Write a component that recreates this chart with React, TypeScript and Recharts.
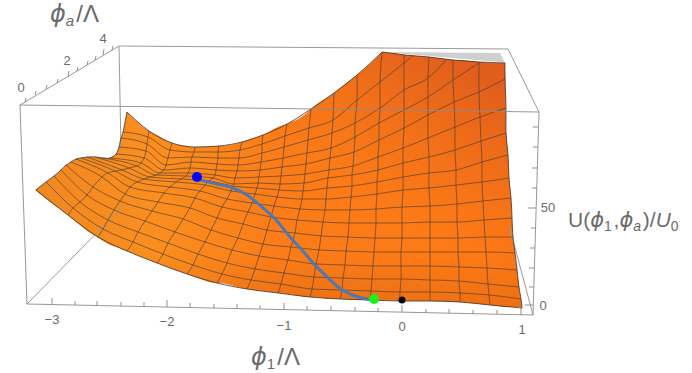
import React from "react";
import { ComposedChart, Area, Line, Scatter, XAxis, YAxis } from "recharts";

type P = [number, number];

// Projected surface mesh: constant-phi1 curves, front (phi_a = 0) to back.
const col0: P[] = [[36,190],[46,182],[54,176],[61,170],[66,165],[71,162],[76,159],[81,158],[87,157],[95,157],[103,158],[110,158],[116,154],[119,147],[121,138],[123,132],[127,112]];
const col1: P[] = [[68,215],[73,208],[80,202],[87,195],[93,187],[102,177],[108,173],[115,171],[122,170],[129,168],[137,166],[141,163],[144,158],[146,151],[147,144],[148,137],[149,131]];
const col2: P[] = [[98,237],[103,229],[108,220],[114,210],[120,201],[125,194],[130,187],[137,182],[144,179],[150,177],[156,175],[160,173],[164,170],[166,165],[168,158],[170,150],[172,143]];
const col3: P[] = [[127,251],[133,242],[138,232],[145,221],[152,211],[158,202],[164,193],[170,187],[176,182],[181,179],[186,176],[188,173],[190,168],[191,162],[192,157],[194,152],[195,147]];
const col4: P[] = [[157,263],[163,254],[168,243],[175,232],[183,219],[190,208],[195,198],[200,191],[205,185],[209,181],[213,178],[215,175],[216,170],[217,164],[218,158],[218,152],[219,146]];
const col5: P[] = [[187,274],[193,265],[198,254],[205,242],[211,230],[217,218],[222,207],[227,199],[231,191],[233,186],[234,184],[235,178],[237,171],[238,165],[239,158],[240,150],[242,142]];
const col6: P[] = [[217,283],[222,274],[227,263],[232,250],[238,238],[243,224],[248,212],[252,203],[255,194],[257,188],[258,183],[259,177],[260,170],[261,162],[262,153],[262,144],[263,135]];
const col7: P[] = [[247,289],[251,280],[255,269],[259,256],[263,244],[267,230],[271,217],[274,206],[277,197],[279,190],[280,184],[281,176],[282,167],[283,158],[284,147],[285,136],[287,124]];
const col8: P[] = [[278,293],[281,284],[284,273],[288,260],[291,247],[295,233],[297,220],[300,209],[302,199],[303,191],[304,183],[305,174],[306,164],[307,153],[308,140],[309,128],[311,109]];
const col9: P[] = [[310,297],[312,289],[314,277],[316,264],[319,250],[321,236],[323,222],[325,210],[326,199],[327,188],[328,178],[329,170],[330,158],[331,148],[332,133],[333,120],[334,93]];
const col10: P[] = [[340,299],[342,290],[343,278],[345,265],[346,251],[348,237],[349,223],[350,210],[351,197],[352,186],[352,175],[353,166],[354,152],[355,137],[355,123],[357,100],[357,75]];
const col11: P[] = [[370,300],[371,291],[372,279],[373,266],[374,252],[375,238],[376,223],[376,209],[377,194],[377,182],[378,170],[378,157],[379,140],[379,123],[380,108],[380,82],[382,52]];
const col12: P[] = [[400,301],[400,292],[401,279],[401,266],[401,252],[402,238],[402,223],[402,207],[403,190],[403,177],[403,163],[403,148],[404,128],[404,110],[404,90],[404,63],[405,55]];
const col13: P[] = [[430,301],[430,292],[430,280],[430,266],[430,252],[430,238],[430,222],[430,206],[429,188],[429,173],[429,157],[428,138],[428,115],[428,97],[428,78],[429,57]];
const col14: P[] = [[460,302],[460,293],[459,281],[459,267],[458,252],[458,238],[457,222],[457,204],[456,185],[456,170],[455,150],[455,127],[454,102],[453,80],[453,60]];
const col15: P[] = [[490,305],[489,295],[488,284],[487,268],[486,252],[485,237],[484,220],[483,201],[482,182],[482,162],[481,141],[480,117],[479,92],[479,62]];
const col16: P[] = [[522,308],[521,299],[519,287],[517,270],[515,253],[513,237],[512,218],[511,198],[509,178],[508,155],[506,133],[506,108],[505,79],[505,63]];
const meshColumns = [col0,col1,col2,col3,col4,col5,col6,col7,col8,col9,col10,col11,col12,col13,col14,col15,col16];
// Where the clipped constant-phi_a curves meet the top edge.
const clipEnds: Record<number, P> = { 13: [479,63], 14: [447,59], 15: [413,56] };

// Surface silhouette: x, upper edge, lower edge; three pieces that meet at the sharp corners.
const leftX = [35,46,54,61,66,68,71,76,81,87,95,100,103,110,116,119,121,123,127];
const leftTop = [190,182,176,170,165,164,162,159,158,157,157,158,158,158,154,147,138,132,112];
const leftBottom = [190,199,205,210,214,215,218,222,226,231,236,239,241,245,247,248,249,250,251];
const midX = [127,149,157,172,187,195,217,219,242,247,263,278,287,310,311,334,340,357,370,382];
const midTop = [112,131,135,143,146,147,146,146,142,140,135,127,124,110,109,93,88,75,64,52];
const midBottom = [251,260,263,269,274,277,283,283,288,289,291,293,294,297,297,299,299,300,300,300];
const rightX = [382,400,405,429,453,460,479,490,505,506,508,509,511,512,513,515,517,519,521,522];
const rightTop = [52,54,55,57,60,60,62,63,63,133,155,178,198,218,237,253,270,287,299,308];
const rightBottom = [300,301,301,301,302,302,304,305,307,307,307,307,307,307,307,307,307,307,307,308];

const backFaceX = [382,500,505];
const backFaceTop = [52,53,63];
const backFaceBottom = [52,62,63];

// Gradient-descent path and markers.
const path: P[] = [[196,179],[213,183],[230,187],[247,195],[263,208],[277,221],[290,237],[302,250],[313,263],[325,275],[338,287],[350,294],[362,298],[373,300]];
const blueDot: P = [197,177];
const greenDot: P = [374,299];
const blackDot: P = [402,300];

// Bounding box edges.
const boxBack: P[][] = [
  [[20,105],[119,46],[508,49],[539,112]],
  [[119,46],[121,150]],
  [[27,304],[124,205]],
  [[533,315],[509,225]],
];
const boxFront: P[][] = [
  [[20,105],[539,112],[533,315],[27,304],[20,105]],
];

// Tick marks: position on axis, major flag.
const phi1Ticks: [number,number,boolean][] = [[52,305,true],[75,305,false],[97,305,false],[121,306,false],[144,306,false],[167,307,true],[190,307,false],[214,308,false],[237,308,false],[260,309,false],[284,310,true],[307,310,false],[331,310,false],[355,311,false],[378,312,false],[402,312,true],[426,313,false],[449,313,false],[473,314,false],[497,314,false],[521,315,true]];
const zTicks: [number,number,boolean][] = [[533,305,true],[534,287,false],[534,268,false],[535,248,false],[536,228,false],[536,208,true],[537,188,false],[537,168,false],[538,147,false],[538,127,false]];
const phiATicks: [number,number,boolean][] = [[25,102,false],[35,95,false],[46,89,false],[57,83,false],[68,77,true],[77,71,false],[87,65,false],[95,60,false],[103,55,true],[112,50,false]];

const phi1Labels = [{x:52,y:324,t:"\u22123"},{x:167,y:326,t:"\u22122"},{x:284,y:330,t:"\u22121"},{x:402,y:331,t:"0"},{x:522,y:334,t:"1"}];
const zLabels = [{x:548,y:212,t:"50"},{x:543,y:310,t:"0"}];
const phiALabels = [{x:21,y:92,t:"0"},{x:67,y:65,t:"2"},{x:103,y:43,t:"4"}];

const GRAY = "#6b6b6b";
const FONT = "'Liberation Sans', Arial, sans-serif";
const PHI = "'DejaVu Sans', 'Liberation Sans', sans-serif";

const toPts = (a: P[]) => a.map(([x, y]) => ({ x, y }));
const meshRows: P[][] = Array.from({ length: 16 }, (_, j) => {
  const pts: P[] = [];
  for (const c of meshColumns) {
    if (j < c.length - 1) pts.push(c[j]);
  }
  if (clipEnds[j]) pts.push(clipEnds[j]);
  return pts;
});
const tops = meshColumns.map((c) => c[c.length - 1]);
const backEdge = tops.slice(0, 12);
const topEdge = tops.slice(11);

const band = (xs: number[], top: number[], bottom: number[]) => xs.map((x, i) => ({ x, band: [top[i], bottom[i]] }));
const surfacePieces: [any[], any][] = [
  [band(leftX, leftTop, leftBottom), "linear"],
  [band(midX, midTop, midBottom), "monotone"],
  [band(rightX, rightTop, rightBottom), "linear"],
];
const backFaceData = band(backFaceX, backFaceTop, backFaceBottom);

const seg = (pts: P[], key: string, stroke: string, w: number, op = 1, type: any = "linear") => (
  <Line key={key} data={toPts(pts)} dataKey="y" stroke={stroke} strokeWidth={w} strokeOpacity={op} dot={false} activeDot={false} legendType="none" isAnimationActive={false} type={type} />
);

const phiSpan = (sub: string, size: number, subSize: number) => (
  <>
    <tspan fontFamily={PHI} fontStyle="italic" fontSize={size}>{"\u03D5"}</tspan>
    <tspan fontSize={subSize} dy={4} fontStyle={sub === "a" ? "italic" : "normal"}>{sub}</tspan>
    <tspan dy={-4} fontSize={size}>{"\u200A"}</tspan>
  </>
);

const TickText = (p: any) => (
  <text x={p.cx} y={p.cy} textAnchor="middle" fontFamily={FONT} fontSize={13} fill={GRAY}>{p.payload.t}</text>
);

const titles = [
  { x: 50, y: 22, k: "a" },
  { x: 251, y: 365, k: "1" },
  { x: 568, y: 227, k: "u" },
];

const Title = (p: any) => {
  const k = p.payload.k;
  return (
    <text x={p.cx} y={p.cy} fontFamily={FONT} fontSize={24} fill={GRAY}>
      {k === "u" ? (
        <>
          <tspan fontSize={21}>U(</tspan>
          {phiSpan("1", 21, 14)}
          <tspan fontSize={21}>,</tspan>
          {phiSpan("a", 21, 14)}
          <tspan fontSize={21}>)/</tspan>
          <tspan fontSize={21} fontStyle="italic">U</tspan>
          <tspan fontSize={14} dy={4}>0</tspan>
        </>
      ) : (
        <>
          {phiSpan(k, 24, 15)}
          <tspan>/{"\u039B"}</tspan>
        </>
      )}
    </text>
  );
};

const Dot = (color: string, r: number) => (p: any) => <circle cx={p.cx} cy={p.cy} r={r} fill={color} />;
const one = (pt: P) => [{ x: pt[0], y: pt[1] }];

const surfaceFills = ["url(#base)", "url(#topShade)", "url(#lowShade)"];

export default function App() {
  return (
    <div style={{ position: "absolute", left: 0, top: 0 }}>
      <ComposedChart width={692} height={373} margin={{ top: 0, right: 0, bottom: 0, left: 0 }}>
        <defs>
          <linearGradient id="base" gradientUnits="userSpaceOnUse" x1="35" y1="0" x2="522" y2="0">
            <stop offset="0" stopColor="#F08822" />
            <stop offset="0.25" stopColor="#FB8E1E" />
            <stop offset="0.5" stopColor="#FB7C18" />
            <stop offset="1" stopColor="#FF7A14" />
          </linearGradient>
          <linearGradient id="topShade" gradientUnits="userSpaceOnUse" x1="440" y1="50" x2="350" y2="190">
            <stop offset="0" stopColor="#D8561E" stopOpacity="0.78" />
            <stop offset="0.6" stopColor="#E05F1C" stopOpacity="0.28" />
            <stop offset="1" stopColor="#E8651A" stopOpacity="0" />
          </linearGradient>
          <linearGradient id="lowShade" gradientUnits="userSpaceOnUse" x1="300" y1="255" x2="300" y2="305">
            <stop offset="0" stopColor="#C85A10" stopOpacity="0" />
            <stop offset="1" stopColor="#C85A10" stopOpacity="0.32" />
          </linearGradient>
        </defs>
        <XAxis type="number" dataKey="x" domain={[0, 692]} hide allowDataOverflow />
        <YAxis type="number" dataKey="y" domain={[0, 373]} reversed hide allowDataOverflow />

        {boxBack.map((b, i) => seg(b, `back${i}`, "#9a9a9a", 1))}
        {phi1Ticks.map(([x, y, m], i) => seg([[x, y], [x, y - (m ? 7 : 4)]], `tx${i}`, "#8f8f8f", 1))}
        {zTicks.map(([x, y, m], i) => seg([[x, y], [x - (m ? 8 : 5), y]], `tz${i}`, "#8f8f8f", 1))}
        {phiATicks.map(([x, y, m], i) => seg([[x, y], [x + 1, y - (m ? 6 : 4)]], `ta${i}`, "#8f8f8f", 1))}

        <Area data={backFaceData} dataKey="band" type="linear" stroke="none" fill="#cfcfcf" fillOpacity={1} dot={false} activeDot={false} isAnimationActive={false} />
        {surfaceFills.flatMap((fill, f) =>
          surfacePieces.map(([data, type], i) => (
            <Area key={`s${f}-${i}`} data={data} dataKey="band" type={type} stroke="none" fill={fill} fillOpacity={1} dot={false} activeDot={false} isAnimationActive={false} />
          ))
        )}

        {meshRows.map((r, i) => seg(r, `row${i}`, "#4a3a30", i === 0 ? 1 : 0.9, i === 0 ? 0.85 : 0.7, "monotone"))}
        {seg(backEdge, "backEdge", "#4a3a30", 1, 0.85, "monotone")}
        {seg(topEdge, "topEdge", "#4a3a30", 1, 0.85, "linear")}
        {meshColumns.map((c, i) => seg(c, `col${i}`, "#4a3a30", i === 0 || i === 16 ? 1 : 0.9, i === 0 || i === 16 ? 0.85 : 0.7, "natural"))}
        {boxFront.map((b, i) => seg(b, `front${i}`, "#8c8c8c", 1, 0.9))}

        <Scatter data={one(blueDot)} shape={Dot("#0000ff", 5)} isAnimationActive={false} />
        {seg(path, "path", "#5078B0", 3, 1, "natural")}
        <Scatter data={one(greenDot)} shape={Dot("#19f01e", 5)} isAnimationActive={false} />
        <Scatter data={one(blackDot)} shape={Dot("#000000", 3.5)} isAnimationActive={false} />

        <Scatter data={[...phi1Labels, ...zLabels, ...phiALabels]} shape={TickText} isAnimationActive={false} />
        <Scatter data={titles} shape={Title} isAnimationActive={false} />
      </ComposedChart>
    </div>
  );
}
